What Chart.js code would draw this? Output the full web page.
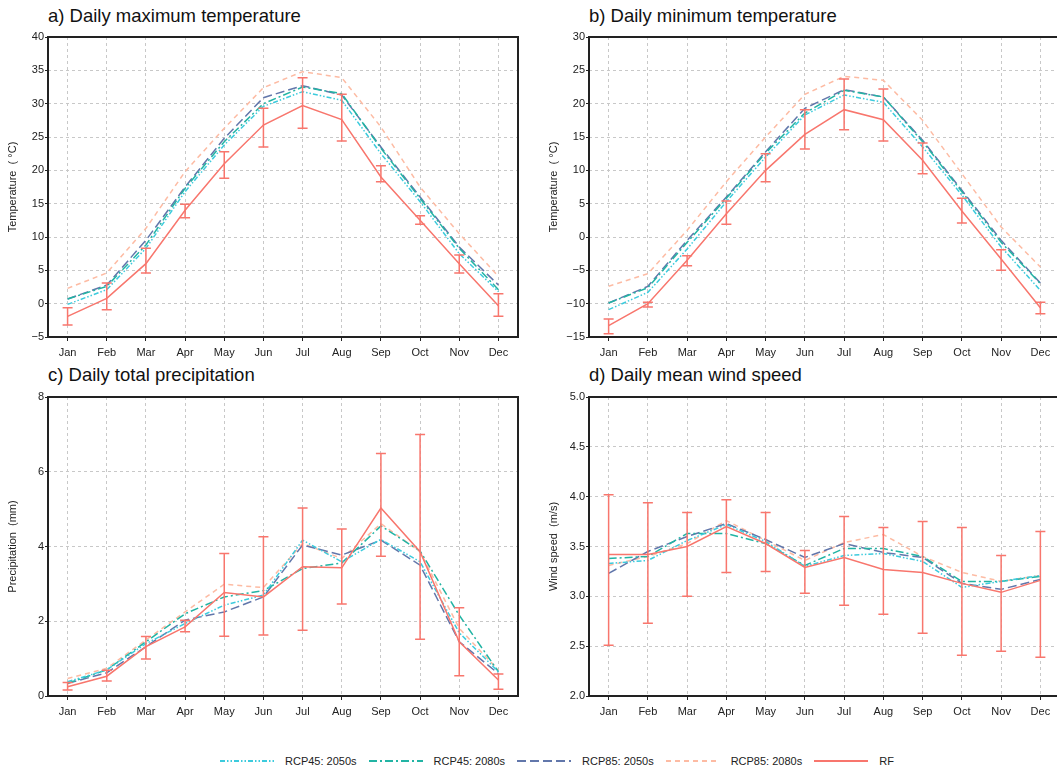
<!DOCTYPE html>
<html>
<head>
<meta charset="utf-8">
<script src="https://cdn.jsdelivr.net/npm/chart.js@4"></script>
<style>
  body { margin: 0; width: 1057px; height: 770px; overflow: hidden; background: #fff; font-family: "Liberation Sans", Arial, sans-serif; }
  .panel { position: absolute; }
  .title { position: absolute; font-size: 18.5px; line-height: 18px; color: #111; white-space: nowrap; }
  #legend { position: absolute; left: 220px; top: 755px; display: flex; align-items: center; font-size: 11px; color: #222; white-space: nowrap; }
  #legend .item { display: flex; align-items: center; margin-right: 12px; }
  #legend svg { margin-right: 11px; }
</style>
</head>
<body>
<div class="title" style="left:48px;top:7px">a) Daily maximum temperature</div>
<div class="title" style="left:589px;top:7px">b) Daily minimum temperature</div>
<div class="title" style="left:48px;top:366px">c) Daily total precipitation</div>
<div class="title" style="left:589px;top:366px">d) Daily mean wind speed</div>

<div class="panel" style="left:0;top:27px"><canvas id="chartA" width="520" height="345"></canvas></div>
<div class="panel" style="left:541px;top:27px"><canvas id="chartB" width="521" height="345"></canvas></div>
<div class="panel" style="left:0;top:387px"><canvas id="chartC" width="520" height="344"></canvas></div>
<div class="panel" style="left:541px;top:387px"><canvas id="chartD" width="521" height="344"></canvas></div>

<div id="legend"></div>

<script>
const months = ["Jan", "Feb", "Mar", "Apr", "May", "Jun", "Jul", "Aug", "Sep", "Oct", "Nov", "Dec"];

// a) daily max temperature
const tmaxRF = [-1.9, 0.8, 6.0, 14.0, 21.0, 26.8, 29.7, 27.6, 19.0, 12.5, 6.0, -0.3];
const tmaxRFHi = [-0.6, 3.1, 8.3, 14.9, 22.8, 29.3, 33.9, 31.4, 20.7, 13.2, 7.3, 1.5];
const tmaxRFLo = [-3.2, -0.9, 4.6, 12.9, 18.8, 23.5, 26.3, 24.4, 18.3, 11.9, 4.6, -1.9];
const tmax45_50 = [-0.1, 2.1, 8.3, 16.8, 23.8, 29.6, 31.8, 30.5, 22.5, 15.3, 7.5, 1.8];
const tmax45_80 = [0.7, 2.6, 8.8, 17.3, 24.3, 30.0, 32.5, 31.5, 23.3, 15.8, 8.3, 2.1];
const tmax85_50 = [0.7, 2.8, 9.5, 17.5, 24.8, 30.9, 32.7, 31.3, 23.5, 16.0, 8.5, 2.8];
const tmax85_80 = [2.3, 4.6, 11.3, 19.8, 26.3, 32.4, 34.8, 33.9, 26.5, 17.5, 10.5, 4.1];

// b) daily min temperature
const tminRF = [-13.3, -10.0, -3.5, 3.5, 10.0, 15.4, 19.1, 17.6, 11.5, 3.9, -3.3, -10.6];
const tminRFHi = [-12.3, -9.8, -2.8, 5.4, 12.5, 19.1, 23.7, 22.2, 14.1, 5.8, -1.9, -9.8];
const tminRFLo = [-14.5, -10.5, -4.3, 1.9, 8.3, 13.2, 16.1, 14.4, 9.5, 2.1, -5.0, -11.5];
const tmin45_50 = [-10.9, -8.3, -1.8, 5.3, 12.0, 18.3, 21.3, 20.2, 13.5, 6.3, -1.5, -8.0];
const tmin45_80 = [-9.9, -7.6, -0.8, 5.8, 12.6, 18.6, 22.0, 21.0, 14.3, 6.8, -0.8, -7.0];
const tmin85_50 = [-9.9, -7.4, -0.5, 6.0, 12.8, 19.3, 22.1, 21.0, 14.5, 7.0, -0.5, -6.9];
const tmin85_80 = [-7.4, -5.5, 1.0, 8.3, 15.0, 21.4, 24.1, 23.5, 17.5, 9.5, 1.5, -4.5];

// c) daily total precipitation
const precRF = [0.25, 0.53, 1.32, 1.85, 2.77, 2.65, 3.46, 3.43, 5.03, 3.86, 1.45, 0.43];
const precRFHi = [0.36, 0.69, 1.59, 2.03, 3.81, 4.26, 5.03, 4.47, 6.49, 7.0, 2.36, 0.59];
const precRFLo = [0.16, 0.40, 0.99, 1.72, 1.60, 1.63, 1.76, 2.46, 3.74, 1.52, 0.54, 0.18];
const prec45_50 = [0.38, 0.70, 1.40, 1.94, 2.43, 2.70, 4.17, 3.59, 4.19, 3.59, 1.69, 0.65];
const prec45_80 = [0.34, 0.70, 1.45, 2.20, 2.65, 2.82, 3.41, 3.56, 4.55, 3.88, 2.16, 0.65];
const prec85_50 = [0.34, 0.62, 1.32, 2.03, 2.25, 2.65, 4.04, 3.77, 4.17, 3.50, 1.45, 0.60];
const prec85_80 = [0.47, 0.74, 1.50, 2.25, 2.99, 2.90, 4.08, 3.68, 4.61, 3.86, 1.81, 0.69];

// d) daily mean wind speed
const windRF = [3.42, 3.42, 3.50, 3.70, 3.53, 3.29, 3.39, 3.27, 3.24, 3.13, 3.04, 3.16];
const windRFHi = [4.02, 3.94, 3.84, 3.97, 3.84, 3.46, 3.80, 3.69, 3.75, 3.69, 3.41, 3.65];
const windRFLo = [2.51, 2.73, 3.00, 3.24, 3.25, 3.03, 2.91, 2.82, 2.63, 2.41, 2.45, 2.39];
const wind45_50 = [3.33, 3.36, 3.56, 3.72, 3.55, 3.30, 3.41, 3.43, 3.35, 3.09, 3.15, 3.21];
const wind45_80 = [3.38, 3.40, 3.63, 3.63, 3.53, 3.31, 3.48, 3.48, 3.40, 3.15, 3.15, 3.20];
const wind85_50 = [3.23, 3.45, 3.60, 3.73, 3.57, 3.39, 3.53, 3.44, 3.39, 3.13, 3.07, 3.17];
const wind85_80 = [3.31, 3.40, 3.53, 3.76, 3.56, 3.36, 3.54, 3.62, 3.40, 3.24, 3.15, 3.21];

const seriesNames = ["RCP45: 2050s", "RCP45: 2080s", "RCP85: 2050s", "RCP85: 2080s", "RF"];
const seriesColors = ["#3CCBDD", "#22B4A4", "#6277AB", "#FDBBA3", "#F8766D"];
const seriesDash = [[5, 2, 1.5, 2, 1.5, 2], [8, 3, 2, 3], [9, 4], [5, 4], []];

Chart.defaults.font.family = '"Liberation Sans", Arial, sans-serif';
Chart.defaults.color = "#222";

// frame round the plot area
const boxPlugin = {
  id: "box",
  afterDraw(chart) {
    const a = chart.chartArea;
    const ctx = chart.ctx;
    ctx.save();
    ctx.strokeStyle = "#222";
    ctx.lineWidth = 2;
    ctx.strokeRect(a.left, a.top, a.right - a.left, a.bottom - a.top);
    ctx.restore();
  },
};

// RF error bars, placed with the chart's own scales
const errPlugin = {
  id: "errbars",
  afterDatasetsDraw(chart, args, opts) {
    if (!opts.hi) return;
    const ctx = chart.ctx;
    const x = chart.scales.x;
    const y = chart.scales.y;
    ctx.save();
    ctx.strokeStyle = seriesColors[4];
    ctx.lineWidth = 1.5;
    opts.hi.forEach((hi, i) => {
      const px = x.getPixelForValue(i);
      const top = y.getPixelForValue(hi);
      const bot = y.getPixelForValue(opts.lo[i]);
      ctx.beginPath();
      ctx.moveTo(px, top);
      ctx.lineTo(px, bot);
      ctx.moveTo(px - 5, top);
      ctx.lineTo(px + 5, top);
      ctx.moveTo(px - 5, bot);
      ctx.lineTo(px + 5, bot);
      ctx.stroke();
    });
    ctx.restore();
  },
};

function makeChart(id, series, hi, lo, yLabel, yMin, yMax, yStep, decimals) {
  const datasets = series.map((vals, k) => ({
    label: seriesNames[k],
    data: vals,
    borderColor: seriesColors[k],
    borderDash: seriesDash[k],
    borderWidth: 1.5,
    pointRadius: 0,
    tension: 0,
    fill: false,
    order: k === 4 ? -1 : k,
  }));

  return new Chart(document.getElementById(id), {
    type: "line",
    data: { labels: months, datasets: datasets },
    plugins: [boxPlugin, errPlugin],
    options: {
      responsive: false,
      animation: false,
      devicePixelRatio: 1,
      layout: { padding: { top: 10, right: 2, left: 0, bottom: 0 } },
      plugins: {
        legend: { display: false },
        tooltip: { enabled: false },
        errbars: { hi: hi, lo: lo },
      },
      scales: {
        x: {
          offset: true,
          grid: { offset: false, color: "#c8c8c8", tickLength: 4, tickColor: "#222", tickBorderDash: [] },
          border: { display: false, dash: [3, 3] },
          ticks: { font: { size: 11 }, padding: 5, maxRotation: 0 },
          afterFit(scale) { scale.height = 35; },
        },
        y: {
          min: yMin,
          max: yMax,
          grid: { color: "#c8c8c8", tickLength: 3, tickColor: "#222", tickBorderDash: [] },
          border: { display: false, dash: [3, 3] },
          ticks: {
            stepSize: yStep,
            font: { size: 11 },
            padding: 1,
            callback: (v) => v.toFixed(decimals).replace("-", "\u2212"),
          },
          title: { display: true, text: yLabel, font: { size: 11 }, padding: { top: 6, bottom: 0 } },
          afterFit(scale) { scale.width = 48; },
        },
      },
    },
  });
}

makeChart("chartA", [tmax45_50, tmax45_80, tmax85_50, tmax85_80, tmaxRF], tmaxRFHi, tmaxRFLo,
  "Temperature  ( \u00b0C)", -5, 40, 5, 0);
makeChart("chartB", [tmin45_50, tmin45_80, tmin85_50, tmin85_80, tminRF], tminRFHi, tminRFLo,
  "Temperature  ( \u00b0C)", -15, 30, 5, 0);
makeChart("chartC", [prec45_50, prec45_80, prec85_50, prec85_80, precRF], precRFHi, precRFLo,
  "Precipitation  (mm)", 0, 8, 2, 0);
makeChart("chartD", [wind45_50, wind45_80, wind85_50, wind85_80, windRF], windRFHi, windRFLo,
  "Wind speed  (m/s)", 2, 5, 0.5, 1);

// shared legend under the four panels
const legend = document.getElementById("legend");
seriesNames.forEach((name, k) => {
  const item = document.createElement("div");
  item.className = "item";
  item.innerHTML = `<svg width="54" height="6"><line x1="0" y1="3" x2="54" y2="3" stroke="${seriesColors[k]}"
    stroke-width="2" stroke-dasharray="${seriesDash[k].join(" ")}"/></svg><span>${name}</span>`;
  legend.appendChild(item);
});
</script>
</body>
</html>
